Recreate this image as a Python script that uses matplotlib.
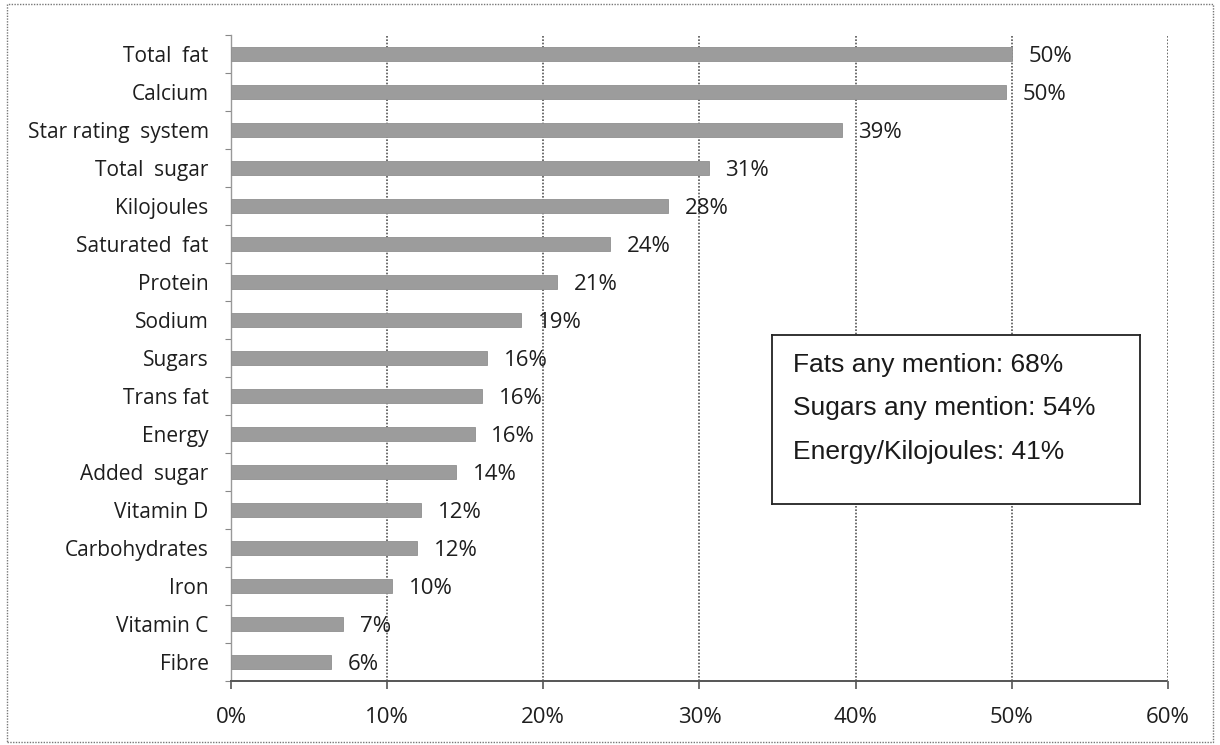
import matplotlib
matplotlib.use("Agg")
import matplotlib.pyplot as plt
from matplotlib.patches import Rectangle
from matplotlib.ticker import FixedLocator, FuncFormatter
import numpy as np

# Nutrients / claims mentioned, share of respondents (%)
categories = [
    "Total  fat", "Calcium", "Star rating  system", "Total  sugar", "Kilojoules",
    "Saturated  fat", "Protein", "Sodium", "Sugars", "Trans fat", "Energy",
    "Added  sugar", "Vitamin D", "Carbohydrates", "Iron", "Vitamin C", "Fibre",
]
values = [50.0, 49.6, 39.1, 30.6, 28.0, 24.3, 20.9, 18.6, 16.4, 16.1, 15.6,
          14.4, 12.2, 11.9, 10.3, 7.2, 6.4]
x_ticks = [0, 10, 20, 30, 40, 50, 60]
summary_lines = [
    "Fats any mention: 68%",
    "Sugars any mention: 54%",
    "Energy/Kilojoules: 41%",
]

fig = plt.figure(figsize=(12.2, 7.45), dpi=100)
ax = fig.add_axes([0.1893, 0.0859, 0.7681, 0.8671])

y = np.arange(len(categories))
ax.barh(y, values, height=0.39, color="#9c9c9c", edgecolor="#909090",
        linewidth=0.6, zorder=3)

label_font = "Open Sans"
for yi, v in zip(y, values):
    ax.annotate(f"{round(v):d}%", xy=(v, yi), xytext=(12, -1.5),
                textcoords="offset points", ha="left", va="center",
                fontsize=16, family=label_font, color="#1e1e1e", zorder=4)

ax.set_xlim(0, 60)
ax.set_ylim(len(categories) - 0.5, -0.5)

ax.xaxis.set_major_locator(FixedLocator(x_ticks))
ax.xaxis.set_major_formatter(FuncFormatter(lambda v, p: f"{v:.0f}%"))
ax.set_yticks(y)
ax.set_yticklabels(categories)
ax.set_yticks(np.arange(-0.5, len(categories), 1.0), minor=True)

for lab in ax.get_xticklabels():
    lab.set_family(label_font)
    lab.set_fontsize(16)
    lab.set_color("#1e1e1e")
for lab in ax.get_yticklabels():
    lab.set_family(label_font)
    lab.set_fontsize(15)
    lab.set_color("#1e1e1e")

ax.tick_params(axis="x", which="major", length=6, width=1.2, color="#555555",
               pad=13, direction="out")
ax.tick_params(axis="y", which="major", length=0, pad=16)
ax.tick_params(axis="y", which="minor", length=4, width=0.8, color="#888888",
               direction="out")

# Dotted vertical gridlines at every 10 %
ax.grid(axis="x", linestyle=(0, (1, 1)), color="#555555", linewidth=1.2,
        zorder=1)
ax.grid(axis="y", visible=False)

for side in ("top", "right"):
    ax.spines[side].set_visible(False)
ax.spines["bottom"].set_linestyle((0, (1, 1)))
ax.spines["bottom"].set_color("#555555")
ax.spines["bottom"].set_linewidth(1.4)
ax.spines["left"].set_color("#999999")
ax.spines["left"].set_linewidth(1.0)

# Summary box
box_ax = fig.add_axes([772 / 1220, 1 - 504 / 745, (1140 - 772) / 1220,
                       (504 - 335) / 745])
box_ax.set_xticks([])
box_ax.set_yticks([])
box_ax.set_facecolor("white")
for s in box_ax.spines.values():
    s.set_color("#222222")
    s.set_linewidth(1.3)
box_top, box_h = 335, 504 - 335
for i, line in enumerate(summary_lines):
    yc = 365 + i * 43.5
    box_ax.text(0.057, 1 - (yc - box_top) / box_h, line,
                transform=box_ax.transAxes, ha="left", va="center",
                fontsize=19, family="Liberation Sans", color="#1a1a1a")

# Dotted frame around the whole figure
fig.patches.append(Rectangle((7 / 1220, 3 / 745), (1213 - 7) / 1220,
                             (741 - 3) / 745, transform=fig.transFigure,
                             fill=False, linestyle=(0, (1, 1)),
                             edgecolor="#777777", linewidth=1.0))

fig.savefig("out.png", dpi=100, facecolor="white")
